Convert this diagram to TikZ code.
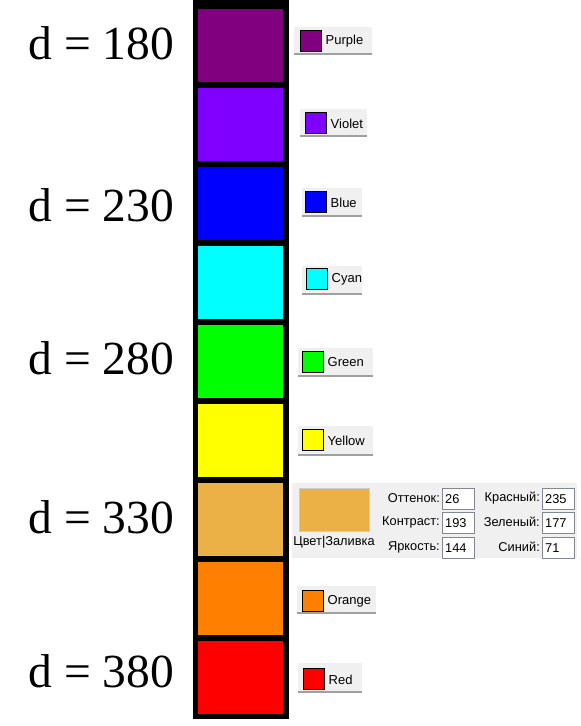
\documentclass[tikz,border=0pt]{standalone}
\usepackage{fontspec}
\setmainfont{Liberation Serif}
\newfontfamily\uifont{Liberation Sans}
\definecolor{cPurple}{RGB}{128,0,128}
\definecolor{cViolet}{RGB}{128,0,255}
\definecolor{cBlue}{RGB}{0,0,255}
\definecolor{cCyan}{RGB}{0,255,255}
\definecolor{cGreen}{RGB}{0,255,0}
\definecolor{cYellow}{RGB}{255,255,0}
\definecolor{cTan}{RGB}{235,177,71}
\definecolor{cOrange}{RGB}{255,128,0}
\definecolor{cRed}{RGB}{255,0,0}
\definecolor{uibg}{RGB}{240,240,240}
\definecolor{uiline}{RGB}{160,160,160}
\definecolor{uibox}{RGB}{130,135,144}
\tikzset{
  dlabel/.style={anchor=base west, inner sep=0pt, font=\fontsize{47.5}{50}\selectfont},
  colsq/.style={draw=none, inner sep=0pt, minimum width=85pt, minimum height=73pt, anchor=north west},
  swatch/.style={draw=black, line width=1.2pt, inner sep=0pt, minimum size=21pt},
  btntext/.style={inner sep=0pt, anchor=west, font=\uifont\fontsize{13}{15}\selectfont},
  paneltext/.style={inner sep=0pt, font=\uifont\fontsize{12.8}{14}\selectfont},
  valbox/.style={draw=uibox, fill=white, line width=0.8pt, inner sep=0pt, minimum width=32pt, minimum height=21pt, anchor=north west},
}
\newcommand\colbtn[9]{%
  \fill[uibg] (#2,#3) rectangle (#4,#5);
  \draw[uiline, line width=1.6pt] (#2,#5) -- (#4,#5);
  \node[swatch, fill=#8] (#1sw) at (#6+11,#7+11) {};
  \node[btntext] (#1lbl) at (#6+25.5,#7+11.5) {#9};
}
\begin{document}
\begin{tikzpicture}[x=1pt,y=-1pt]
\useasboundingbox (0,0) rectangle (581,726);
\fill[white] (0,0) rectangle (581,726);
% column
\fill[black] (193,0) rectangle (289,719);
\node[colsq, fill=cPurple] (sq1) at (198,9) {};
\node[colsq, fill=cViolet] (sq2) at (198,88) {};
\node[colsq, fill=cBlue]   (sq3) at (198,167) {};
\node[colsq, fill=cCyan]   (sq4) at (198,246) {};
\node[colsq, fill=cGreen]  (sq5) at (198,325) {};
\node[colsq, fill=cYellow] (sq6) at (198,404) {};
\node[colsq, fill=cTan]    (sq7) at (198,483) {};
\node[colsq, fill=cOrange] (sq8) at (198,562) {};
\node[colsq, fill=cRed]    (sq9) at (198,641) {};
% d labels
\node[dlabel] (d180) at (28.5,59) {d = 180};
\node[dlabel] (d230) at (28.5,221) {d = 230};
\node[dlabel] (d280) at (28.5,374) {d = 280};
\node[dlabel] (d330) at (28.5,533) {d = 330};
\node[dlabel] (d380) at (28.5,687) {d = 380};
% buttons
\colbtn{purple}{294}{27}{372}{54}{300}{30}{cPurple}{Purple}
\colbtn{violet}{300}{109}{367}{136}{305}{112}{cViolet}{Violet}
\colbtn{blue}{302}{188}{362}{216}{305}{191}{cBlue}{Blue}
\colbtn{cyan}{302}{266}{362}{294}{306}{268}{cCyan}{Cyan}
\colbtn{green}{298}{348}{373}{376}{302}{351}{cGreen}{Green}
\colbtn{yellow}{298}{426}{373}{455}{302}{429}{cYellow}{Yellow}
\colbtn{orange}{297}{586}{376}{613}{302}{590}{cOrange}{Orange}
\colbtn{red}{298}{663}{362}{692}{303}{668}{cRed}{Red}
% panel
\fill[uibg] (292,483) rectangle (577,558);
\node[draw=uibg!85!black, line width=0.6pt, fill=cTan, inner sep=0pt, minimum width=70pt, minimum height=43pt, anchor=north west] (pswatch) at (299,488) {};
\node[paneltext, anchor=center] (pcap) at (334,542) {Цвет|Заливка};
\node[paneltext, anchor=east] (l1) at (440,498) {Оттенок:};
\node[paneltext, anchor=east] (l2) at (440,522) {Контраст:};
\node[paneltext, anchor=east] (l3) at (440,547) {Яркость:};
\node[valbox] (b1) at (442,488) {};
\node[valbox] (b2) at (442,512) {};
\node[valbox] (b3) at (442,537) {};
\node[paneltext, anchor=west] at ([xshift=3pt]b1.west) {26};
\node[paneltext, anchor=west] at ([xshift=3pt]b2.west) {193};
\node[paneltext, anchor=west] at ([xshift=3pt]b3.west) {144};
\node[paneltext, anchor=east] (r1) at (540,498) {Красный:};
\node[paneltext, anchor=east] (r2) at (540,522) {Зеленый:};
\node[paneltext, anchor=east] (r3) at (540,547) {Синий:};
\node[valbox] (c1) at (542,488) {};
\node[valbox] (c2) at (542,512) {};
\node[valbox] (c3) at (542,537) {};
\node[paneltext, anchor=west] at ([xshift=3pt]c1.west) {235};
\node[paneltext, anchor=west] at ([xshift=3pt]c2.west) {177};
\node[paneltext, anchor=west] at ([xshift=3pt]c3.west) {71};
\end{tikzpicture}
\end{document}
